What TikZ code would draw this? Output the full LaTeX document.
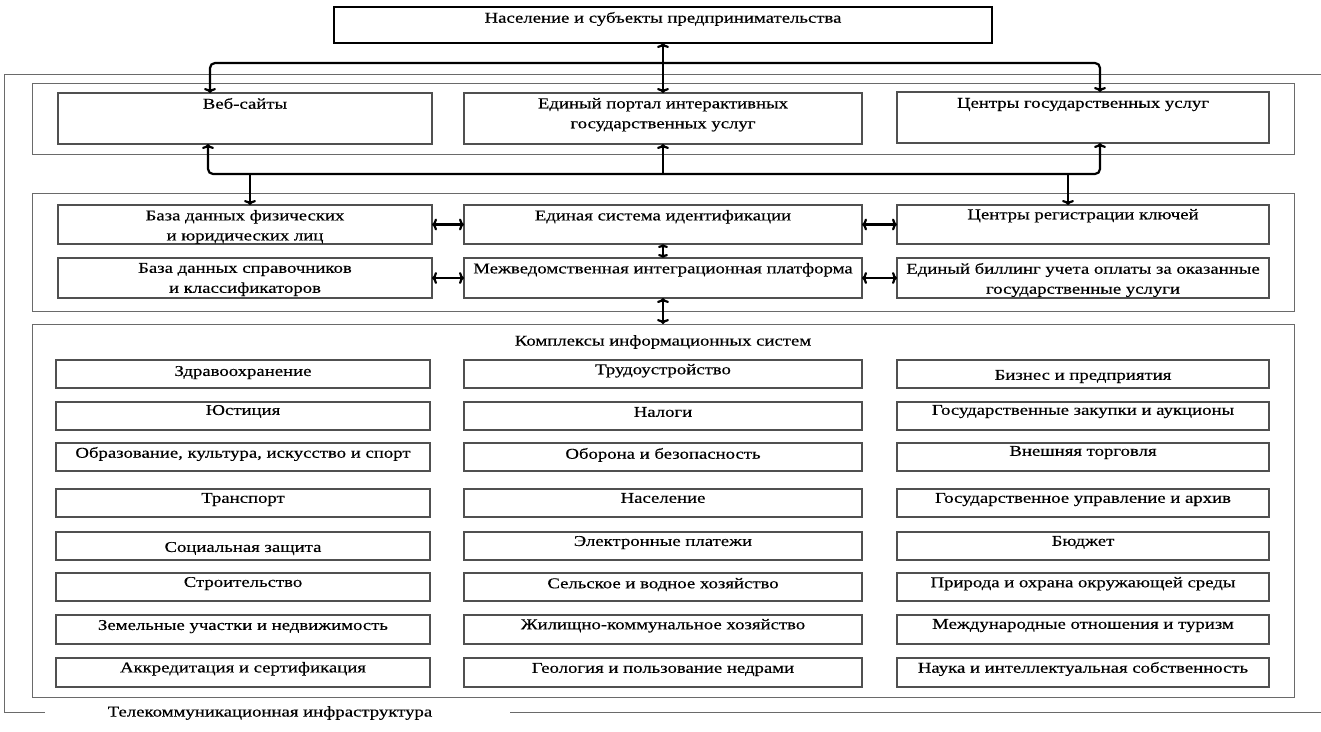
\documentclass[tikz,border=0pt]{standalone}
\usepackage{fontspec}
\setmainfont[FakeStretch=1.25, FakeBold=0.35]{Liberation Serif}
\usetikzlibrary{arrows.meta}
\definecolor{boxgray}{HTML}{505050}
\definecolor{grpgray}{HTML}{6A6A6A}
\tikzset{
  bx/.style={draw=boxgray, line width=1.3pt, fill=white, inner sep=0pt, outer sep=0pt, anchor=north west},
  topbx/.style={bx, draw=black, line width=1.8pt},
  grp/.style={draw=grpgray, line width=1pt, inner sep=0pt, outer sep=0pt, anchor=north west},
  txt/.style={inner sep=0pt, outer sep=0pt, anchor=north, align=center, font=\fontsize{15}{20}\selectfont},
  conn/.style={line width=2.2pt, black},
  tip/.tip={To[length=5pt, width=12pt]},
  smalltip/.tip={To[length=4pt, width=10pt]},
  frame/.style={draw=grpgray, line width=1pt}
}
\newcommand\bx[8][bx]{%
  \node[#1, minimum width={(#6-#4)*1pt}, minimum height={(#7-#5)*1pt}] (#2) at (#4,#5) {};
  \node[txt] (#2t) at ([yshift={-(#3-5)*1pt}]#2.north) {#8};}
\newcommand\grpbox[5]{%
  \node[grp, minimum width={(#4-#2)*1pt}, minimum height={(#5-#3)*1pt}] (#1) at (#2,#3) {};}
\begin{document}
\begin{tikzpicture}[x=1pt, y=-1pt]
\useasboundingbox (0,0) rectangle (1321,731);
\fill[white] (0,0) rectangle (1321,731);

% outer frame
\draw[frame] (1321,74) -| (4,712) -- (45,712);
\draw[frame] (510,712) -- (1321,712);
\node[txt, anchor=center] (tel) at (270,713) {Телекоммуникационная инфраструктура};

% top box
\bx[topbx]{top}{10}{334}{7}{992}{43}{Население и субъекты предпринимательства}

% group 1
\grpbox{g1}{32}{83}{1294}{154}
\bx{web}{10}{58}{93}{432}{144}{Веб-сайты}
\bx{portal}{10}{464}{93}{862}{144}{Единый портал интерактивных\\государственных услуг}
\bx{cgu}{11}{897}{92}{1269}{143}{Центры государственных услуг}

% group 2
\grpbox{g2}{32}{193}{1294}{311}
\bx{dbf}{10}{58}{205}{432}{244}{База данных физических\\и юридических лиц}
\bx{esi}{10}{464}{205}{862}{244}{Единая система идентификации}
\bx{crk}{9}{897}{205}{1269}{244}{Центры регистрации ключей}
\bx{dbs}{10}{58}{258}{432}{298}{База данных справочников\\и классификаторов}
\bx{mip}{10}{464}{258}{862}{298}{Межведомственная интеграционная платформа}
\bx{bil}{10}{897}{258}{1269}{298}{Единый биллинг учета оплаты за оказанные\\государственные услуги}

% group 3
\grpbox{g3}{32}{324}{1294}{697}
\node[txt, anchor=center] (g3t) at (663,342) {Комплексы информационных систем};
\bx{a1}{11}{56}{360}{430}{388}{Здравоохранение}
\bx{b1}{9}{464}{360}{862}{388}{Трудоустройство}
\bx{c1}{15}{897}{360}{1269}{388}{Бизнес и предприятия}
\bx{a2}{8}{56}{402}{430}{430}{Юстиция}
\bx{b2}{10}{464}{402}{862}{430}{Налоги}
\bx{c2}{8}{897}{402}{1269}{430}{Государственные закупки и аукционы}
\bx{a3}{9}{56}{443}{430}{471}{Образование, культура, искусство и спорт}
\bx{b3}{10}{464}{443}{862}{471}{Оборона и безопасность}
\bx{c3}{8}{897}{443}{1269}{471}{Внешняя торговля}
\bx{a4}{9}{56}{489}{430}{517}{Транспорт}
\bx{b4}{9}{464}{489}{862}{517}{Население}
\bx{c4}{9}{897}{489}{1269}{517}{Государственное управление и архив}
\bx{a5}{15}{56}{532}{430}{560}{Социальная защита}
\bx{b5}{9}{464}{532}{862}{560}{Электронные платежи}
\bx{c5}{9}{897}{532}{1269}{560}{Бюджет}
\bx{a6}{9}{56}{573}{430}{601}{Строительство}
\bx{b6}{10}{464}{573}{862}{601}{Сельское и водное хозяйство}
\bx{c6}{9}{897}{573}{1269}{601}{Природа и охрана окружающей среды}
\bx{a7}{10}{56}{615}{430}{644}{Земельные участки и недвижимость}
\bx{b7}{9}{464}{615}{862}{644}{Жилищно-коммунальное хозяйство}
\bx{c7}{9}{897}{615}{1269}{644}{Международные отношения и туризм}
\bx{a8}{9}{56}{658}{430}{687}{Аккредитация и сертификация}
\bx{b8}{10}{464}{658}{862}{687}{Геология и пользование недрами}
\bx{c8}{9}{897}{658}{1269}{687}{Наука и интеллектуальная собственность}

% connectors
\coordinate (u1) at (210,63);
\coordinate (u2) at (1100,63);
\coordinate (l1) at (208,174);
\coordinate (l2) at (1100,174);
\coordinate (l3) at (250,174);
\coordinate (l4) at (1068,174);
\draw[conn, {tip}-{tip}, rounded corners=5pt] (u1 |- web.north) -- (u1) -- (u2) -- (u2 |- cgu.north);
\draw[conn, {tip}-{tip}] (top.south) -- (portal.north);
\draw[conn, {tip}-{tip}, rounded corners=5pt] (l1 |- web.south) -- (l1) -- (l2) -- (l2 |- cgu.south);
\draw[conn, -{tip}] (portal.south |- l1) -- (portal.south);
\draw[conn, -{tip}] (l3) -- (l3 |- dbf.north);
\draw[conn, -{tip}] (l4) -- (l4 |- crk.north);
\draw[conn, {tip}-{tip}] (dbf.east) -- (esi.west);
\draw[conn, {tip}-{tip}] (esi.east) -- (crk.west);
\draw[conn, {tip}-{tip}] (dbs.east) -- (mip.west);
\draw[conn, {tip}-{tip}] (mip.east) -- (bil.west);
\draw[conn, {smalltip}-{smalltip}] (esi.south) -- (mip.north);
\draw[conn, {tip}-{tip}] (mip.south) -- (g3.north -| mip.south);
\end{tikzpicture}
\end{document}
